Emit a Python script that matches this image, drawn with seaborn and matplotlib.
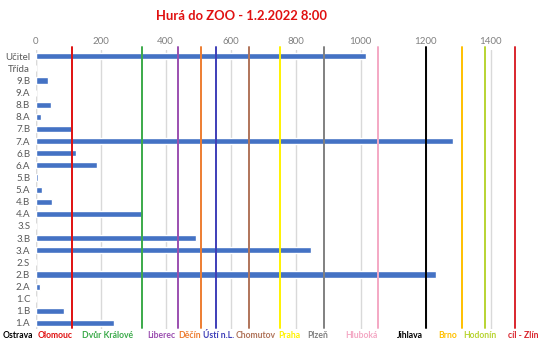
import matplotlib
matplotlib.use("Agg")
import matplotlib.pyplot as plt
import matplotlib.transforms as mtransforms
import seaborn as sns
import pandas as pd

# Kilometres walked per class
classes = ["Učitel", "Třída", "9.B", "9.A", "8.B", "8.A", "7.B", "7.A", "6.B",
           "6.A", "5.B", "5.A", "4.B", "4.A", "3.S", "3.B", "3.A", "2.S", "2.B",
           "2.A", "1.C", "1.B", "1.A"]
km = [1018, 0, 39, 0, 46, 16, 112, 1283, 123, 187, 7, 20, 51, 331, 0, 492,
      848, 0, 1232, 14, 0, 88, 240]

# Stops on the route (distance from start)
stops = ["Ostrava", "Olomouc", "Dvůr Králové", "Liberec", "Děčín", "Ústí n.L.",
         "Chomutov", "Praha", "Plzeň", "Hluboká", "Jihlava", "Brno", "Hodonín",
         "cíl - Zlín"]
stop_km = [0, 113, 327, 437, 509, 556, 656, 752, 887, 1054, 1202, 1311, 1384, 1475]
stop_colors = ["#000000", "#E01010", "#3BAA4A", "#9B4FB0", "#ED7D31", "#3E3EB8",
               "#B0745A", "#FFF200", "#808080", "#F4A8C4", "#000000", "#FFC000",
               "#B8D432", "#D9262E"]
# horizontal anchor of each stop name under the axis
label_x = [-54, 61, 222, 387, 475, 564, 678, 780, 867, 1002, 1152, 1267, 1367, 1502]

df = pd.DataFrame({"trida": classes, "km": km})

sns.set_theme(style="white")
plt.rcParams["font.family"] = ["Lato", "DejaVu Sans"]

fig = plt.figure(figsize=(5.5, 3.46), dpi=100)
ax = fig.add_axes([0.065, 0.049, 0.886, 0.806])

sns.barplot(data=df, x="km", y="trida", orient="h", color="#4472C4",
            width=0.5, saturation=1, ax=ax)

ax.set_xlim(0, 1500)
ax.set_ylim(len(classes) - 0.5, -0.5)
ax.set_xticks(range(0, 1401, 200))
ax.xaxis.tick_top()
ax.tick_params(axis="x", length=0, labelsize=7, colors="#808080", pad=3)
ax.tick_params(axis="y", length=0, labelsize=7, colors="#595959", pad=4)
ax.set_xlabel("")
ax.set_ylabel("")
for s in ax.spines.values():
    s.set_visible(False)
ax.grid(axis="x", color="#D9D9D9", linewidth=1)
ax.axvline(0, color="#D9D9D9", linewidth=1, zorder=0)
ax.set_axisbelow(True)

trans = mtransforms.blended_transform_factory(ax.transData, ax.transAxes)
for name, x, c, lx in zip(stops, stop_km, stop_colors, label_x):
    if x > 0:
        ax.plot([x, x], [0.005, 1.01], color=c, linewidth=1.4, transform=trans,
                clip_on=False, zorder=3)
    ax.text(lx, -0.022, name, transform=trans, color=c, fontsize=6.2,
            fontweight="bold", ha="center", va="center", clip_on=False)

fig.text(0.44, 0.955, "Hurá do ZOO - 1.2.2022 8:00", color="#E01010",
         fontsize=9.4, fontweight="bold", ha="center", va="center")

fig.savefig("out.png", dpi=100)
